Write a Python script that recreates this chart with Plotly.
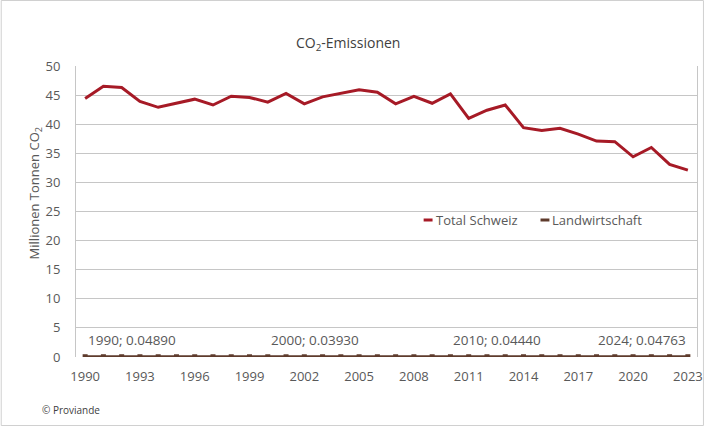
import plotly.graph_objects as go

years = list(range(1990, 2024))
total_schweiz = [44.4, 46.5, 46.3, 43.9, 42.9, 43.6, 44.3, 43.3, 44.8, 44.6,
                 43.8, 45.3, 43.5, 44.7, 45.3, 45.9, 45.5, 43.5, 44.8, 43.6,
                 45.2, 41.0, 42.4, 43.3, 39.4, 38.9, 39.3, 38.3, 37.1, 37.0,
                 34.4, 36.0, 33.1, 32.1]
landwirtschaft = [0.0489, 0.0485, 0.0470, 0.0455, 0.0445, 0.0430, 0.0420, 0.0410, 0.0405, 0.0398,
                  0.0393, 0.0395, 0.0400, 0.0405, 0.0410, 0.0415, 0.0420, 0.0425, 0.0430, 0.0435,
                  0.0444, 0.0448, 0.0452, 0.0455, 0.0458, 0.0460, 0.0462, 0.0465, 0.0467, 0.0469,
                  0.0471, 0.0473, 0.0475, 0.0476]
tick_years = [1990, 1993, 1996, 1999, 2002, 2005, 2008, 2011, 2014, 2017, 2020, 2023]
tick_labels = [str(y) for y in tick_years]
label_years = [1990, 2000, 2010, 2023]
label_texts = ["1990; 0.04890", "2000; 0.03930", "2010; 0.04440", "2024; 0.04763"]
series_names = ["Total Schweiz", "Landwirtschaft"]

RED = "#A61A26"
BROWN = "#5E3B2C"
TXT = "#595959"
GRID = "#c6c6c6"
FONT = "Open Sans, Lato, sans-serif"

W, H = 710, 426
ML, MR, MT, MB = 76, 7, 66, 69
PW, PH = W - ML - MR, H - MT - MB


def px(x):
    return (x - ML) / PW


def py(y):
    return (H - MB - y) / PH


fig = go.Figure()
fig.add_trace(go.Scatter(x=years, y=total_schweiz, mode="lines", name=series_names[0],
                         line=dict(color=RED, width=3), showlegend=False))
fig.add_trace(go.Scatter(x=years, y=landwirtschaft, mode="lines+markers", name=series_names[1],
                         line=dict(color=BROWN, width=3),
                         marker=dict(symbol="square", size=5, color=BROWN),
                         showlegend=False))

annotations = []
for yr, txt in zip(label_years, label_texts):
    idx = years.index(yr)
    last = yr == years[-1]
    annotations.append(dict(x=yr, y=landwirtschaft[idx], xref="x", yref="y", text=txt,
                            showarrow=False, xanchor="right" if last else "left",
                            yanchor="middle", yshift=17, xshift=0 if last else 1,
                            font=dict(family=FONT, size=13.5, color=TXT)))

# title
annotations.append(dict(x=px(351), y=py(43), xref="paper", yref="paper",
                        text="CO<sub>2</sub>-Emissionen", showarrow=False,
                        xanchor="center", yanchor="middle",
                        font=dict(family=FONT, size=14, color="#404040")))
# y title
annotations.append(dict(x=px(35), y=py(193), xref="paper", yref="paper",
                        text="Millionen Tonnen CO<sub>2</sub>", showarrow=False, textangle=-90,
                        xanchor="center", yanchor="middle",
                        font=dict(family=FONT, size=13, color=TXT)))
# footer
annotations.append(dict(x=px(40), y=py(410), xref="paper", yref="paper",
                        text="© Proviande", showarrow=False,
                        xanchor="left", yanchor="middle",
                        font=dict(family=FONT, size=10, color="#404040")))

shapes = []
# outer border
shapes.append(dict(type="rect", xref="paper", yref="paper",
                   x0=px(0.5), x1=px(709.5), y0=py(425.5), y1=py(0.5),
                   line=dict(color="#d0d0d0", width=1), fillcolor="rgba(0,0,0,0)", layer="above"))
# legend box (white background)
shapes.append(dict(type="rect", xref="paper", yref="paper",
                   x0=px(400), x1=px(667), y0=py(236), y1=py(205),
                   line=dict(width=0), fillcolor="white", layer="between"))
legend_items = [(series_names[0], RED, 427), (series_names[1], BROWN, 545)]
for name, col, x0 in legend_items:
    shapes.append(dict(type="line", xref="paper", yref="paper",
                       x0=px(x0), x1=px(x0 + 9), y0=py(220), y1=py(220),
                       line=dict(color=col, width=3), layer="above"))
    annotations.append(dict(x=px(x0 + 10), y=py(220), xref="paper", yref="paper",
                            text=name, showarrow=False, xanchor="left", yanchor="middle",
                            font=dict(family=FONT, size=13, color=TXT)))

fig.update_layout(
    width=W, height=H,
    margin=dict(l=ML, r=MR, t=MT, b=MB, pad=0),
    paper_bgcolor="white", plot_bgcolor="white",
    font=dict(family=FONT, size=13, color=TXT),
    showlegend=False,
    annotations=annotations,
    shapes=shapes,
    xaxis=dict(range=[years[0] - 0.5, years[-1] + 0.5], tickmode="array",
               tickvals=tick_years, ticktext=tick_labels, showgrid=False,
               zeroline=False, showline=False, ticks="", ticklabelstandoff=10,
               tickfont=dict(family=FONT, size=13, color=TXT)),
    yaxis=dict(range=[0, 50], dtick=5, showgrid=True, gridcolor=GRID, gridwidth=1,
               zeroline=False, showline=True, linecolor=GRID, linewidth=1, mirror=True,
               ticks="", ticklabelstandoff=12,
               tickfont=dict(family=FONT, size=13, color=TXT)),
)

fig.write_html("out.html")
